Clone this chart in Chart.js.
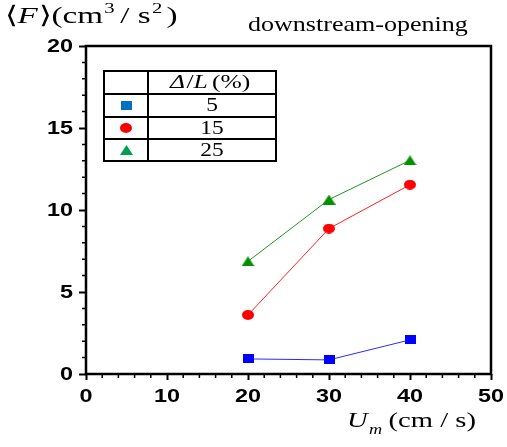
<!DOCTYPE html>
<html>
<head>
<meta charset="utf-8">
<script src="https://cdn.jsdelivr.net/npm/chart.js@4/dist/chart.umd.min.js"></script>
<style>
  html, body { margin: 0; padding: 0; background: #fff; }
  #wrap { width: 507px; height: 447px; }
</style>
</head>
<body>
<div id="wrap"><canvas id="myChart" width="507" height="447"></canvas></div>
<script>
// data
const speeds = [20, 30, 40];            // U_m (cm/s)
const ratio5 = [0.92, 0.86, 2.08];      // Δ/L = 5 %
const ratio15 = [3.6, 8.87, 11.54];     // Δ/L = 15 %
const ratio25 = [6.87, 10.64, 13.03];   // Δ/L = 25 %
const legendLabels = ['5', '15', '25'];
const xTickLabels = [0, 10, 20, 30, 40, 50];
const yTickLabels = [0, 5, 10, 15, 20];

function pts(ys) {
    return speeds.map((x, i) => ({ x: x, y: ys[i] }));
}

const serif = '"Liberation Serif", "Times New Roman", serif';
const sans = '"Liberation Sans", Arial, sans-serif';
const SX = 1.3; // the original text is drawn a bit wide

// small marker pictures, slightly wider than tall like the original
function marker(w, h, draw) {
    const c = document.createElement('canvas');
    c.width = w;
    c.height = h;
    draw(c.getContext('2d'), w, h);
    return c;
}
function squareMark(color) {
    return marker(11, 9, (g, w, h) => { g.fillStyle = color; g.fillRect(0, 0, w, h); });
}
function roundMark(color) {
    return marker(12, 10, (g, w, h) => {
        g.fillStyle = color;
        g.beginPath();
        g.ellipse(w / 2, h / 2, w / 2, h / 2, 0, 0, Math.PI * 2);
        g.fill();
    });
}
function triMark(color) {
    return marker(13, 10, (g, w, h) => {
        g.fillStyle = color;
        g.beginPath();
        g.moveTo(0, h);
        g.lineTo(w, h);
        g.lineTo(w / 2, 0);
        g.closePath();
        g.fill();
    });
}

// draws a list of text runs one after another, stretched by sx
function drawRuns(ctx, x, y, runs, sx) {
    ctx.save();
    ctx.translate(x, y);
    ctx.scale(sx || 1, 1);
    let cx = 0;
    runs.forEach(r => {
        ctx.font = r.font;
        ctx.fillText(r.t, cx, r.dy || 0);
        cx += ctx.measureText(r.t).width + (r.gap || 0);
    });
    ctx.restore();
}
function wideText(ctx, t, x, y, sx) {
    ctx.save();
    ctx.translate(x, y);
    ctx.scale(sx, 1);
    ctx.fillText(t, 0, 0);
    ctx.restore();
}

const extras = {
    id: 'extras',
    afterDraw(chart) {
        const ctx = chart.ctx;
        const area = chart.chartArea;
        const xs = chart.scales.x, ys = chart.scales.y;
        ctx.save();
        ctx.strokeStyle = '#000';
        ctx.fillStyle = '#000';

        // minor ticks
        ctx.lineWidth = 1.5;
        ctx.beginPath();
        for (let v = 2; v < 50; v += 2) {
            if (v % 10 === 0) continue;
            const px = xs.getPixelForValue(v);
            ctx.moveTo(px, area.bottom);
            ctx.lineTo(px, area.bottom + 4);
        }
        for (let v = 1; v < 20; v += 1) {
            if (v % 5 === 0) continue;
            const py = ys.getPixelForValue(v);
            ctx.moveTo(area.left, py);
            ctx.lineTo(area.left - 4, py);
        }
        ctx.stroke();

        // frame
        ctx.lineWidth = 2.5;
        ctx.strokeRect(area.left, area.top, area.right - area.left, area.bottom - area.top);

        // tick labels
        ctx.font = 'bold 18px ' + sans;
        ctx.textBaseline = 'middle';
        ctx.textAlign = 'center';
        xTickLabels.forEach(v => wideText(ctx, String(v), xs.getPixelForValue(v), area.bottom + 23, SX));
        ctx.textAlign = 'right';
        yTickLabels.forEach(v => wideText(ctx, String(v), area.left - 13, ys.getPixelForValue(v) + 1, SX));

        // titles
        ctx.textAlign = 'left';
        ctx.textBaseline = 'alphabetic';
        drawRuns(ctx, 5, 23, [
            { t: '\u27E8', font: '24px ' + serif },
            { t: 'F', font: 'italic 24px ' + serif, gap: 1 },
            { t: '\u27E9', font: '24px ' + serif },
            { t: '(cm', font: '24px ' + serif, gap: 1 },
            { t: '3', font: '15px ' + serif, dy: -10, gap: 4 },
            { t: '/ s', font: '24px ' + serif, gap: 1 },
            { t: '2', font: '15px ' + serif, dy: -10, gap: 3 },
            { t: ')', font: '24px ' + serif }
        ], 1.38);
        ctx.font = '21px ' + serif;
        wideText(ctx, 'downstream-opening', 248, 31, 1.24);

        drawRuns(ctx, 347, 427, [
            { t: 'U', font: 'italic 22px ' + serif, gap: 1 },
            { t: 'm', font: 'italic 14px ' + serif, dy: 7, gap: 5 },
            { t: '(cm / s)', font: '22px ' + serif }
        ], 1.3);

        // legend table
        const L = 104, R = 276, C = 148;
        const rows = [71, 94, 117, 139, 161];
        ctx.lineWidth = 2;
        ctx.strokeRect(L, rows[0], R - L, rows[4] - rows[0]);
        ctx.beginPath();
        for (let i = 1; i < 4; i++) {
            ctx.moveTo(L, rows[i]);
            ctx.lineTo(R, rows[i]);
        }
        ctx.moveTo(C, rows[0]);
        ctx.lineTo(C, rows[4]);
        ctx.stroke();

        const midC = (C + R) / 2;
        ctx.textBaseline = 'middle';
        drawRuns(ctx, 170, (rows[0] + rows[1]) / 2 + 1, [
            { t: '\u0394', font: 'italic 18px ' + serif, gap: 1 },
            { t: '/', font: '18px ' + serif },
            { t: 'L', font: 'italic 18px ' + serif, gap: 3 },
            { t: '(%)', font: '18px ' + serif }
        ], 1.42);
        ctx.textAlign = 'center';
        ctx.font = '18px ' + serif;
        legendLabels.forEach((lab, i) => {
            wideText(ctx, lab, midC, (rows[i + 1] + rows[i + 2]) / 2 + 1, 1.3);
        });

        // legend markers
        const mx = (L + C) / 2;
        const legendMarks = [squareMark('#0070c0'), roundMark('#ff0000'), triMark('#00a050')];
        legendMarks.forEach((m, i) => {
            const my = (rows[i + 1] + rows[i + 2]) / 2;
            ctx.drawImage(m, Math.round(mx - m.width / 2), Math.round(my - m.height / 2));
        });

        ctx.restore();
    }
};

let chart = new Chart(document.getElementById('myChart').getContext('2d'), {
    type: 'scatter',
    data: {
        datasets: [
            {
                label: '5',
                data: pts(ratio5),
                showLine: true,
                borderColor: '#2a2aff',
                backgroundColor: '#0000ff',
                borderWidth: 1,
                pointStyle: squareMark('#0000ff')
            },
            {
                label: '15',
                data: pts(ratio15),
                showLine: true,
                borderColor: '#ff2020',
                backgroundColor: '#ff0000',
                borderWidth: 1,
                pointStyle: roundMark('#ff0000')
            },
            {
                label: '25',
                data: pts(ratio25),
                showLine: true,
                borderColor: '#1a9a1a',
                backgroundColor: '#008c00',
                borderWidth: 1,
                pointStyle: triMark('#009000')
            }
        ]
    },
    options: {
        responsive: false,
        animation: false,
        layout: {
            padding: { left: 0, right: 16, top: 46, bottom: 0 }
        },
        plugins: {
            legend: { display: false },
            tooltip: { enabled: false }
        },
        scales: {
            x: {
                type: 'linear',
                min: 0,
                max: 50,
                ticks: { stepSize: 10, display: false },
                grid: {
                    drawOnChartArea: false,
                    tickLength: 6,
                    tickWidth: 2,
                    tickColor: '#000'
                },
                border: { display: false },
                afterFit: function (s) { s.height = 73; }
            },
            y: {
                min: 0,
                max: 20,
                ticks: { stepSize: 5, display: false },
                grid: {
                    drawOnChartArea: false,
                    tickLength: 7,
                    tickWidth: 2,
                    tickColor: '#000'
                },
                border: { display: false },
                afterFit: function (s) { s.width = 86; }
            }
        }
    },
    plugins: [extras]
});
</script>
</body>
</html>
